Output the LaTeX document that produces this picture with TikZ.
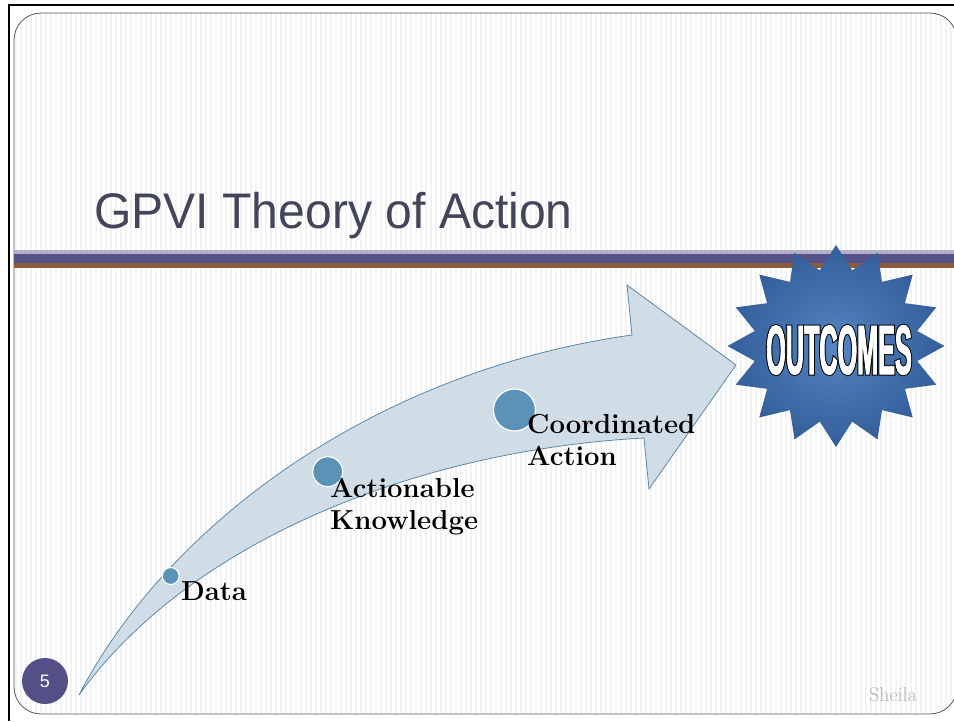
\documentclass[tikz,border=0pt]{standalone}
\usepackage{fontspec}
\usetikzlibrary{shapes.geometric}

\newfontfamily\titlefont{Liberation Sans}
\newfontfamily\burstfont{Liberation Sans}[FakeStretch=0.36,FakeBold=1.2]
\newfontfamily\burstrim{Liberation Sans}[FakeStretch=0.36,FakeBold=4]

\definecolor{titlecol}{HTML}{43465A}
\definecolor{barlight}{HTML}{B2AFC6}
\definecolor{bardark}{HTML}{545288}
\definecolor{barbrown}{HTML}{8C5B3C}
\definecolor{arrowfill}{HTML}{D1DDE6}
\definecolor{arrowline}{HTML}{5B88A8}
\definecolor{dotcol}{HTML}{5B92B7}
\definecolor{starin}{HTML}{5585C2}
\definecolor{starout}{HTML}{335E99}
\definecolor{pagecol}{HTML}{534F87}
\definecolor{sheilacol}{HTML}{B0B0B0}

\begin{document}
\begin{tikzpicture}
    [
        x=1pt, y=-1pt,
        dot/.style={circle, draw=white, line width=1.2pt, fill=dotcol, inner sep=0pt,},
        lbl/.style={font=\bfseries\fontsize{27.5}{32}\selectfont, align=left, anchor=base west, inner sep=0pt,},
        arrowbody/.style={fill=arrowfill, draw=arrowline, line width=0.8pt, line join=miter,},
        outburst/.style={star, star points=16, star point ratio=1.31, minimum size=202pt, inner sep=0pt,
            xscale=1.074, shading=radial, inner color=starin, outer color=starout,},
    ]

    \useasboundingbox [fill=white] (0,0) rectangle (954,721);

    % slide
    \begin{scope}
        \clip [rounded corners=27pt] (14,13) rectangle (957,714);
        \foreach \x in {16,21,...,956}
            \draw [black!5, line width=1.5pt] (\x,13) -- (\x,714);
    \end{scope}
    \draw [black!65, line width=0.8pt, rounded corners=27pt] (14,13) rectangle (957,714);
    \draw [line width=2.5pt] (8,5) -- (954,5);
    \draw [line width=2.5pt] (9,5) -- (9,721);

    % title
    \node (title) at (94,228) [anchor=base west, inner sep=0pt, text=titlecol, xscale=0.962,
        font=\titlefont\fontsize{50}{50}\selectfont] {GPVI Theory of Action};

    \fill [barlight] (14,250)   rectangle (954,254.3);
    \fill [bardark]  (14,254.3) rectangle (954,263.3);
    \fill [barbrown] (14,263.3) rectangle (954,267.7);

    % arrow
    \draw [arrowbody] (79,695) .. controls (170,520) and (380,370) .. (632,335)
        -- (627,285) -- (736,365) -- (649,489) -- (644,438)
        .. controls (420,450) and (190,540) .. (79,695) -- cycle;

    \node (data)  at (170.7,576)   [dot, minimum size=17pt] {};
    \node (know)  at (327.7,471.7) [dot, minimum size=30pt] {};
    \node (coord) at (514.5,410)   [dot, minimum size=42pt] {};

    % last baselines
    \node (datatxt)  at (181,600) [lbl] {Data};
    \node (knowtxt)  at (330,529) [lbl] {Actionable\\Knowledge};
    \node (coordtxt) at (527,465) [lbl] {Coordinated\\Action};

    % outcomes
    \node (outcomes) at (836,346) [outburst] {};
    \node (outrim)   at (839,350) [inner sep=0pt, text=black,
        font=\burstrim\bfseries\fontsize{70}{70}\selectfont] {OUTCOMES};
    \node (outtxt)   at (outrim)  [inner sep=0pt, text=white,
        font=\burstfont\bfseries\fontsize{70}{70}\selectfont] {OUTCOMES};

    % footer
    \node (page)   at (45,681)  [circle, fill=pagecol, minimum size=46pt, inner sep=0pt, text=white,
        font=\titlefont\fontsize{18}{18}\selectfont] {5};
    \node (author) at (917,701) [anchor=base east, inner sep=0pt, text=sheilacol,
        font=\fontsize{20}{20}\selectfont] {Sheila};

\end{tikzpicture}
\end{document}
